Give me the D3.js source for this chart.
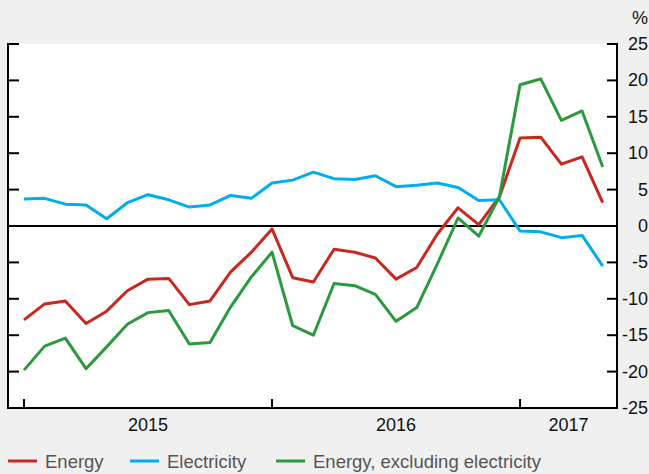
<!doctype html>
<html>
<head>
  <meta charset='utf-8'>
  <style>
    body { margin: 0; background: #f0f0f0; }
    svg { display: block; font-family: 'Liberation Sans', Arial, sans-serif; }
    .tick-label { font-size: 18px; fill: #111; }
    .legend text { font-size: 18.5px; fill: #555; }
  </style>
</head>
<body>
  <svg width='649' height='474'></svg>
  <script src='https://cdn.jsdelivr.net/npm/d3@7'></script>
  <script>
    // monthly data, Jan 2015 - May 2017 (% change)
    var months = ['2015-01','2015-02','2015-03','2015-04','2015-05','2015-06',
                  '2015-07','2015-08','2015-09','2015-10','2015-11','2015-12',
                  '2016-01','2016-02','2016-03','2016-04','2016-05','2016-06',
                  '2016-07','2016-08','2016-09','2016-10','2016-11','2016-12',
                  '2017-01','2017-02','2017-03','2017-04','2017-05'];

    var energy = [-12.9, -10.7, -10.3, -13.4, -11.7, -8.9, -7.3, -7.2, -10.8, -10.3,
                  -6.3, -3.6, -0.4, -7.1, -7.7, -3.2, -3.6, -4.4, -7.3, -5.7,
                  -1.1, 2.5, 0.2, 4.0, 12.1, 12.2, 8.5, 9.5, 3.2];

    var electricity = [3.7, 3.8, 3.0, 2.9, 1.0, 3.2, 4.3, 3.6, 2.6, 2.9,
                       4.2, 3.8, 5.9, 6.3, 7.4, 6.5, 6.4, 6.9, 5.4, 5.6,
                       5.9, 5.3, 3.5, 3.6, -0.7, -0.8, -1.6, -1.3, -5.5];

    var energyExElec = [-19.8, -16.5, -15.4, -19.6, -16.6, -13.5, -11.9, -11.6, -16.2, -16.0,
                        -11.1, -7.0, -3.6, -13.7, -15.0, -7.9, -8.2, -9.4, -13.1, -11.2,
                        -5.2, 1.1, -1.4, 4.0, 19.4, 20.2, 14.5, 15.8, 8.1];

    var yTicks = [25, 20, 15, 10, 5, 0, -5, -10, -15, -20, -25];
    var years = ['2015', '2016', '2017'];

    var series = [
      { name: 'Energy', values: energy, color: '#c8281e' },
      { name: 'Electricity', values: electricity, color: '#00aeef' },
      { name: 'Energy, excluding electricity', values: energyExElec, color: '#2a9a3c' }
    ];

    var svg = d3.select('svg');
    var plotLeft = 8, plotRight = 617, plotTop = 44, plotBottom = 408;

    // month index scale; Jan of each year sits at a year tick
    var x = d3.scaleLinear()
              .domain([-0.774, 28.69])
              .range([plotLeft, plotRight]);

    var y = d3.scaleLinear()
              .domain([-25, 25])
              .range([plotBottom, plotTop]);

    svg.append('rect')
       .attr('x', plotLeft).attr('y', plotTop)
       .attr('width', plotRight - plotLeft).attr('height', plotBottom - plotTop)
       .attr('fill', '#fff');

    // frame: left and right verticals, bottom line, ticks
    var frame = svg.append('g').attr('stroke', '#000').attr('stroke-width', 2);
    frame.append('line').attr('x1', plotLeft).attr('x2', plotLeft)
         .attr('y1', plotTop - 1).attr('y2', plotBottom + 1);
    frame.append('line').attr('x1', plotRight).attr('x2', plotRight)
         .attr('y1', plotTop - 1).attr('y2', plotBottom + 1);
    frame.append('line').attr('x1', plotLeft - 1).attr('x2', plotRight + 1)
         .attr('y1', plotBottom).attr('y2', plotBottom);

    yTicks.forEach(function(v) {
      if (v === -25) return;
      frame.append('line')
           .attr('x1', plotLeft).attr('x2', plotLeft + 11)
           .attr('y1', y(v)).attr('y2', y(v));
      frame.append('line')
           .attr('x1', plotRight - 10).attr('x2', plotRight)
           .attr('y1', y(v)).attr('y2', y(v));
    });

    // zero line
    frame.append('line')
         .attr('x1', plotLeft).attr('x2', plotRight)
         .attr('y1', y(0)).attr('y2', y(0));

    // year ticks on bottom axis
    years.forEach(function(yr, i) {
      frame.append('line')
           .attr('x1', x(i * 12)).attr('x2', x(i * 12))
           .attr('y1', plotBottom).attr('y2', plotBottom - 9);
    });

    // right axis labels, centred on the ticks
    svg.append('g').selectAll('text')
       .data(yTicks)
       .enter().append('text')
       .attr('class', 'tick-label')
       .attr('x', 648)
       .attr('y', function(d) { return y(d) + 6; })
       .attr('text-anchor', 'end')
       .text(function(d) { return d; });

    svg.append('text')
       .attr('class', 'tick-label')
       .attr('x', 648).attr('y', 24)
       .attr('text-anchor', 'end')
       .text('%');

    // year labels centred in each year's span
    svg.append('g').selectAll('text')
       .data(years)
       .enter().append('text')
       .attr('class', 'tick-label')
       .attr('x', function(d, i) {
         var a = i * 12, b = Math.min(a + 12, x.domain()[1]);
         return x((a + b) / 2);
       })
       .attr('y', 431)
       .attr('text-anchor', 'middle')
       .text(function(d) { return d; });

    var line = d3.line()
                 .x(function(d, i) { return x(i); })
                 .y(function(d) { return y(d); });

    svg.append('g').selectAll('path')
       .data(series)
       .enter().append('path')
       .attr('fill', 'none')
       .attr('stroke', function(d) { return d.color; })
       .attr('stroke-width', 3)
       .attr('stroke-linejoin', 'round')
       .attr('d', function(d) { return line(d.values); });

    // legend
    var legendX = [8, 130, 276];
    var legend = svg.append('g').attr('class', 'legend')
                    .selectAll('g')
                    .data(series)
                    .enter().append('g')
                    .attr('transform', function(d, i) {
                      return 'translate(' + legendX[i] + ',461)';
                    });

    legend.append('line')
          .attr('x1', 0).attr('x2', 29)
          .attr('stroke', function(d) { return d.color; })
          .attr('stroke-width', 3);

    legend.append('text')
          .attr('x', 37).attr('y', 7)
          .text(function(d) { return d.name; });
  </script>
</body>
</html>
